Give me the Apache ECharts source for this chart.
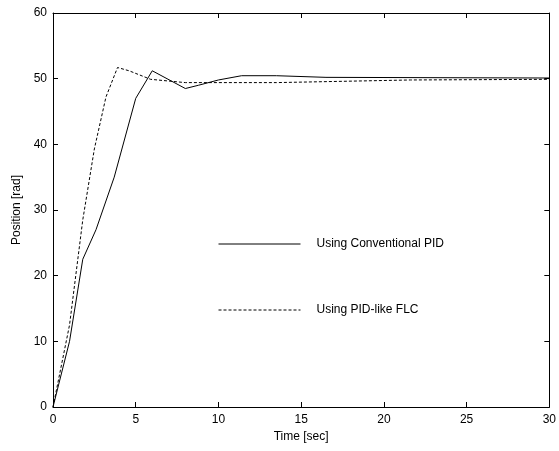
<!DOCTYPE html>
<html>
<head>
<meta charset="utf-8">
<script src="https://cdn.jsdelivr.net/npm/echarts@6/dist/echarts.min.js"></script>
<style>html,body{margin:0;padding:0;background:#fff;}#c{width:559px;height:451px;}</style>
</head>
<body>
<div id="c"></div>
<script>
var xTicks = [0, 5, 10, 15, 20, 25, 30];
var yTicks = [0, 10, 20, 30, 40, 50, 60];
var pidTime = [0, 1, 1.8, 2.6, 3.7, 5, 6, 8, 8.8, 10, 11.4, 13.5, 16.5, 30];
var pidPos  = [0, 10, 22.5, 27, 35, 47, 51.2, 48.5, 49.0, 49.8, 50.45, 50.45, 50.2, 50.1];
var flcTime = [0, 1, 1.8, 2.5, 3.2, 3.9, 4.6, 5.9, 8, 13.5, 13.6, 21.6, 30];
var flcPos  = [0, 12.5, 28.5, 39.3, 47.2, 51.7, 51.2, 49.9, 49.4, 49.4, 49.6, 49.8, 49.9];
var seriesNames = ['Using Conventional PID', 'Using PID-like FLC'];

function pairs(xs, ys){ return xs.map(function(x,i){ return [x, ys[i]]; }); }

var font = 'Liberation Sans, Arial, sans-serif';
var chart = echarts.init(document.getElementById('c'));
function axisCommon(){
  return {
    axisLine: {show: true, onZero: false, lineStyle: {color: '#000', width: 1}},
    axisTick: {show: true, inside: true, length: 5, lineStyle: {color: '#000'}},
    splitLine: {show: false}
  };
}
chart.setOption({
  animation: false,
  backgroundColor: '#fff',
  grid: {left: 53, right: 6, top: 13, bottom: 44},
  legend: {
    orient: 'vertical',
    left: 218, top: 238,
    padding: 0,
    itemWidth: 82, itemHeight: 14,
    itemGap: 54,
    itemStyle: {opacity: 0},
    lineStyle: {width: 1},
    data: seriesNames,
    textStyle: {fontFamily: font, fontSize: 12, color: '#000', padding: [0, 0, 0, 11]}
  },
  xAxis: [
    Object.assign({
      type: 'value', min: 0, max: 30, interval: 5, position: 'bottom',
      name: 'Time [sec]', nameLocation: 'middle', nameGap: 23,
      nameTextStyle: {fontFamily: font, fontSize: 12, color: '#000'},
      axisLabel: {fontFamily: font, fontSize: 12, color: '#000', margin: 7,
        formatter: function(v){ return xTicks.indexOf(v) >= 0 ? String(v) : ''; }}
    }, axisCommon()),
    Object.assign({
      type: 'value', min: 0, max: 30, interval: 5, position: 'top',
      axisLabel: {show: false}
    }, axisCommon())
  ],
  yAxis: [
    Object.assign({
      type: 'value', min: 0, max: 60, interval: 10, position: 'left',
      name: 'Position [rad]', nameLocation: 'middle', nameGap: 30,
      nameTextStyle: {fontFamily: font, fontSize: 12, color: '#000'},
      axisLabel: {fontFamily: font, fontSize: 12, color: '#000', margin: 6,
        formatter: function(v){ return yTicks.indexOf(v) >= 0 ? String(v) : ''; }}
    }, axisCommon()),
    Object.assign({
      type: 'value', min: 0, max: 60, interval: 10, position: 'right',
      axisLabel: {show: false}
    }, axisCommon())
  ],
  series: [
    {
      name: seriesNames[0], type: 'line', data: pairs(pidTime, pidPos),
      symbol: 'none', color: '#000',
      lineStyle: {color: '#000', width: 1, type: 'solid'}
    },
    {
      name: seriesNames[1], type: 'line', data: pairs(flcTime, flcPos),
      symbol: 'none', color: '#000',
      lineStyle: {color: '#000', width: 1, type: [3, 2]}
    }
  ]
});
</script>
</body>
</html>
